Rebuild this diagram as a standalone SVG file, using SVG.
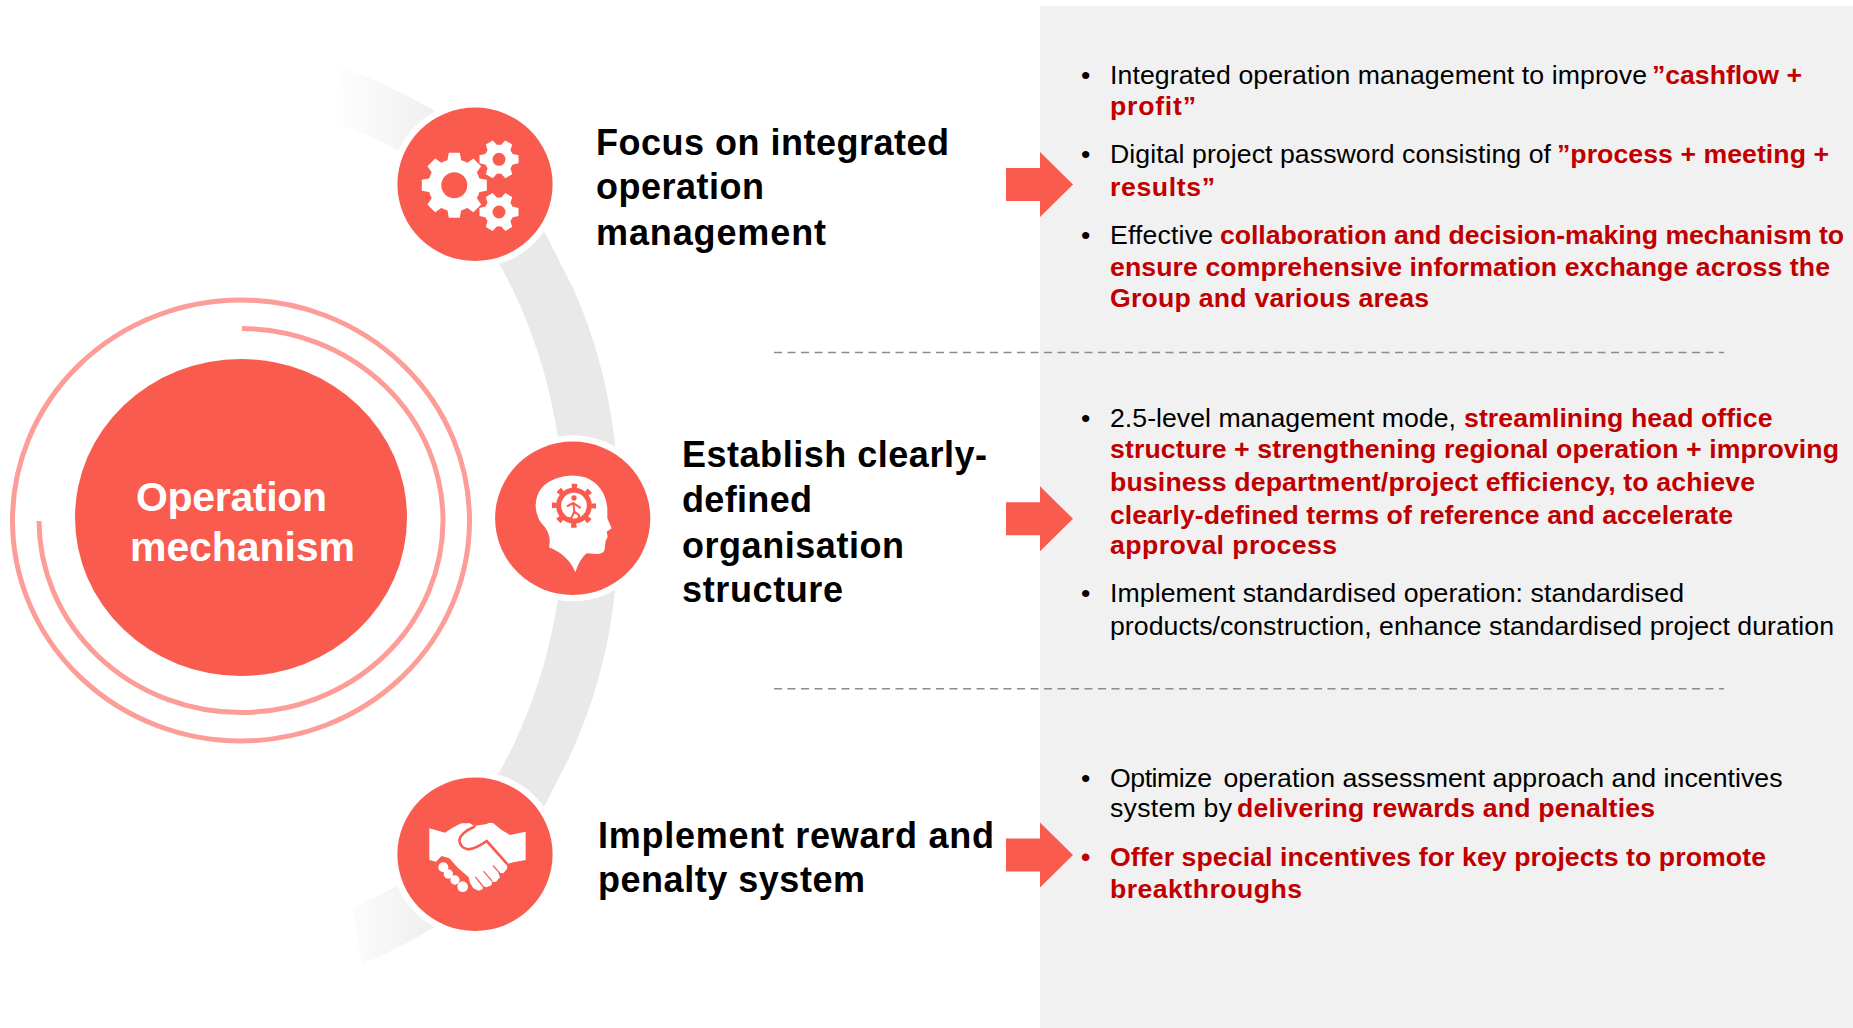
<svg xmlns="http://www.w3.org/2000/svg" width="1853" height="1028" viewBox="0 0 1853 1028">
<style>
text{font-family:"Liberation Sans",Arial,sans-serif}
.h{font-size:36px;font-weight:700;fill:#000}
.c{font-size:41px;font-weight:700;fill:#fff}
.b{font-size:26.67px;fill:#000}
.r{font-size:26.67px;font-weight:700;fill:#c00000}
.node{fill:#f95b4f}
.halo{fill:#fff}
.ring{fill:none;stroke:#fd9d97;stroke-width:5}
.dash{stroke:#8c8c8c;stroke-width:1.5;stroke-dasharray:8 5.5;fill:none}
.ic{fill:#fff}
.cut{fill:none;stroke:#f95b4f;stroke-linecap:round;stroke-linejoin:round}
</style>
<defs>
<linearGradient id="fade" gradientUnits="userSpaceOnUse" x1="332" y1="0" x2="470" y2="0">
<stop offset="0" stop-color="#ffffff"/><stop offset="1" stop-color="#e9e9e9"/>
</linearGradient>
<polygon id="arrow" points="1006,-16.5 1040,-16.5 1040,-32.5 1073,0 1040,32.5 1040,16.5 1006,16.5" fill="#f95b4f"/>
<polygon id="tb" points="-7,-24 7,-24 5.5,-32.5 -5.5,-32.5"/>
<polygon id="ts" points="-5.5,-13 5.5,-13 4,-19.5 -4,-19.5"/>
<g id="gearBig">
<circle r="19.5" fill="none" stroke="#fff" stroke-width="13"/>
<use href="#tb"/><use href="#tb" transform="rotate(45)"/><use href="#tb" transform="rotate(90)"/><use href="#tb" transform="rotate(135)"/>
<use href="#tb" transform="rotate(180)"/><use href="#tb" transform="rotate(225)"/><use href="#tb" transform="rotate(270)"/><use href="#tb" transform="rotate(315)"/>
</g>
<g id="gearSmall">
<circle r="10.5" fill="none" stroke="#fff" stroke-width="8"/>
<use href="#ts" transform="rotate(30)"/><use href="#ts" transform="rotate(90)"/><use href="#ts" transform="rotate(150)"/>
<use href="#ts" transform="rotate(210)"/><use href="#ts" transform="rotate(270)"/><use href="#ts" transform="rotate(330)"/>
</g>
</defs>

<rect width="1853" height="1028" fill="#fff"/>
<rect id="panel" x="1040" y="6" width="813" height="1022" fill="#f1f1f1"/>
<path id="spine" d="M340 67A500 500 0 0 1 433 110L545 233L574 290A520 520 0 0 1 615 445A520 520 0 0 1 620 518A520 520 0 0 1 615 591A520 520 0 0 1 568 760L545 805L433 928A500 500 0 0 1 362 964L352 908A500 500 0 0 0 395 887L500 771L513 746A520 520 0 0 0 555 616A520 520 0 0 0 565 518A520 520 0 0 0 555 420A520 520 0 0 0 513 290L500 265L397 150A500 500 0 0 0 332 120Z" fill="url(#fade)"/>

<g id="connectors">
<use href="#arrow" y="184.5"/>
<use href="#arrow" y="518.8"/>
<use href="#arrow" y="855"/>
<line class="dash" x1="774" y1="352.5" x2="1724" y2="352.5"/>
<line class="dash" x1="774" y1="688.7" x2="1724" y2="688.7"/>
</g>

<g id="operation-mechanism">
<ellipse class="ring" cx="241" cy="520.5" rx="228.5" ry="220.5"/>
<path class="ring" d="M242 328.5A202 192 0 1 1 39 521"/>
<ellipse class="node" cx="241" cy="517.5" rx="166" ry="158.5"/>
<text class="c" x="136" y="511" textLength="191" lengthAdjust="spacing">Operation</text>
<text class="c" x="130" y="561" textLength="225" lengthAdjust="spacing">mechanism</text>
</g>

<g id="node-integrated">
<ellipse class="halo" cx="475" cy="184.3" rx="84" ry="83"/>
<ellipse class="node" cx="475" cy="184.3" rx="77.6" ry="76.7"/>
<g class="ic">
<use href="#gearBig" x="454.3" y="185.3"/>
<use href="#gearSmall" x="499" y="159.3"/>
<use href="#gearSmall" x="499" y="212"/>
</g>
<text class="h" x="596" y="155" textLength="353" lengthAdjust="spacing">Focus on integrated</text>
<text class="h" x="596" y="199.3" textLength="168" lengthAdjust="spacing">operation</text>
<text class="h" x="596" y="245.3" textLength="230" lengthAdjust="spacing">management</text>
</g>

<g id="node-organisation">
<ellipse class="halo" cx="572.7" cy="518.3" rx="84" ry="83"/>
<ellipse class="node" cx="572.7" cy="518.3" rx="77.6" ry="76.7"/>
<g transform="translate(470 420) scale(.3333)">
<path class="ic" d="M316 457Q295 405 237 382Q245 350 225 322Q197 295 197 255Q200 195 260 175Q300 160 345 172Q405 195 412 265L412 295L425 325L410 335L413 350Q403 365 405 385Q402 403 380 402L350 400Q330 415 316 457Z"/>
<circle cx="312" cy="257" r="46" fill="none" stroke="#f95b4f" stroke-width="15"/>
<circle cx="312" cy="257" r="59" fill="none" stroke="#f95b4f" stroke-width="14" pathLength="80" stroke-dasharray="3.6 6.4" stroke-dashoffset="1.8"/>
<circle fill="#f95b4f" cx="312" cy="234" r="8"/>
<path class="cut" stroke-width="6" d="M293 258L310 249L330 263M310 249L313 275L304 294L295 295M313 275L328 286L325 295"/>
</g>
<text class="h" x="682" y="466.7" textLength="305" lengthAdjust="spacing">Establish clearly-</text>
<text class="h" x="682" y="511.7" textLength="130" lengthAdjust="spacing">defined</text>
<text class="h" x="682" y="558.3" textLength="222" lengthAdjust="spacing">organisation</text>
<text class="h" x="682" y="601.7" textLength="161" lengthAdjust="spacing">structure</text>
</g>

<g id="node-reward">
<ellipse class="halo" cx="475" cy="854.3" rx="84" ry="83"/>
<ellipse class="node" cx="475" cy="854.3" rx="77.6" ry="76.7"/>
<g transform="translate(330 760) scale(.3333)">
<path class="ic" d="M298 205L345 218Q375 198 395 190L420 190L433 198L470 192Q480 186 490 190L515 210L540 225L587 215L587 300L550 307L530 312L532 325L520 340L505 338L510 352L498 365L485 365L485 375L470 382L458 378L458 388L445 392L430 385L420 368L416 352L382 322L358 295L335 288L318 305L298 300Z"/>
<circle class="ic" cx="340" cy="322" r="15"/><circle class="ic" cx="355" cy="342" r="14"/><circle class="ic" cx="375" cy="360" r="14"/><circle class="ic" cx="398" cy="380" r="16"/>
<path class="cut" stroke-width="8" d="M433 200Q392 218 388 240Q390 265 415 268Q440 265 470 243L530 310"/>
<path class="cut" stroke-width="4" d="M490 318L508 338M462 335L485 362M437 352L458 378"/>
</g>
<text class="h" x="598" y="848.3" textLength="396" lengthAdjust="spacing">Implement reward and</text>
<text class="h" x="598" y="892.3" textLength="267" lengthAdjust="spacing">penalty system</text>
</g>

<g id="details-integrated">
<text class="b" x="1081" y="84">•</text>
<text class="b" x="1110" y="84" textLength="537" lengthAdjust="spacing">Integrated operation management to improve</text>
<text class="r" x="1652" y="84" textLength="150" lengthAdjust="spacing">”cashflow +</text>
<text class="r" x="1110" y="115" textLength="86" lengthAdjust="spacing">profit”</text>
<text class="b" x="1081" y="162.7">•</text>
<text class="b" x="1110" y="162.7" textLength="441" lengthAdjust="spacing">Digital project password consisting of</text>
<text class="r" x="1557" y="162.7" textLength="272" lengthAdjust="spacing">”process + meeting +</text>
<text class="r" x="1110" y="196" textLength="105" lengthAdjust="spacing">results”</text>
<text class="b" x="1081" y="244">•</text>
<text class="b" x="1110" y="244" textLength="103" lengthAdjust="spacing">Effective</text>
<text class="r" x="1220" y="244" textLength="624" lengthAdjust="spacing">collaboration and decision-making mechanism to</text>
<text class="r" x="1110" y="276" textLength="720" lengthAdjust="spacing">ensure comprehensive information exchange across the</text>
<text class="r" x="1110" y="307" textLength="319" lengthAdjust="spacing">Group and various areas</text>
</g>

<g id="details-organisation">
<text class="b" x="1081" y="426.7">•</text>
<text class="b" x="1110" y="426.7" textLength="346" lengthAdjust="spacing">2.5-level management mode,</text>
<text class="r" x="1464" y="426.7" textLength="308.5" lengthAdjust="spacing">streamlining head office</text>
<text class="r" x="1110" y="458" textLength="729" lengthAdjust="spacing">structure + strengthening regional operation + improving</text>
<text class="r" x="1110" y="490.7" textLength="645" lengthAdjust="spacing">business department/project efficiency, to achieve</text>
<text class="r" x="1110" y="524" textLength="623" lengthAdjust="spacing">clearly-defined terms of reference and accelerate</text>
<text class="r" x="1110" y="554" textLength="227" lengthAdjust="spacing">approval process</text>
<text class="b" x="1081" y="601.7">•</text>
<text class="b" x="1110" y="601.7" textLength="574" lengthAdjust="spacing">Implement standardised operation: standardised</text>
<text class="b" x="1110" y="635" textLength="724" lengthAdjust="spacing">products/construction, enhance standardised project duration</text>
</g>

<g id="details-reward">
<text class="b" x="1081" y="786.7">•</text>
<text class="b" x="1110" y="786.7" textLength="102" lengthAdjust="spacing">Optimize</text>
<text class="b" x="1223.5" y="786.7" textLength="559" lengthAdjust="spacing">operation assessment approach and incentives</text>
<text class="b" x="1110" y="816.7" textLength="122" lengthAdjust="spacing">system by</text>
<text class="r" x="1237" y="816.7" textLength="418" lengthAdjust="spacing">delivering rewards and penalties</text>
<text class="r" x="1081" y="866">•</text>
<text class="r" x="1110" y="866" textLength="656" lengthAdjust="spacing">Offer special incentives for key projects to promote</text>
<text class="r" x="1110" y="898" textLength="192" lengthAdjust="spacing">breakthroughs</text>
</g>
</svg>
